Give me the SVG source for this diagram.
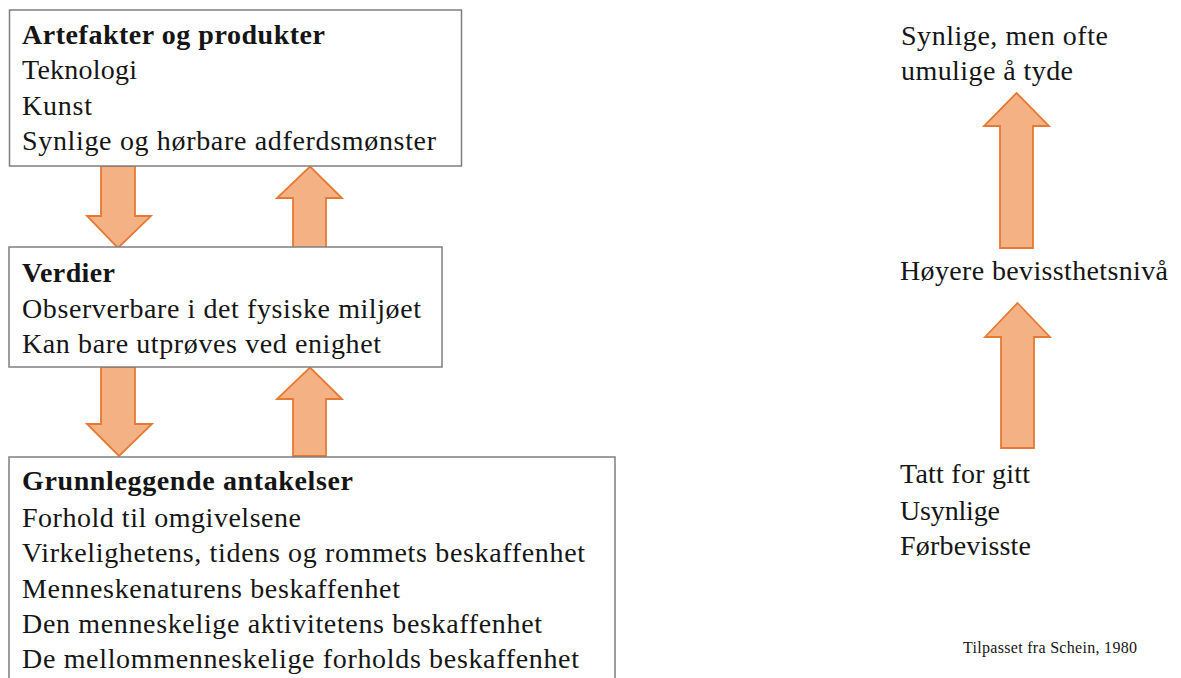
<svg xmlns="http://www.w3.org/2000/svg" width="1181" height="678" viewBox="0 0 1181 678">
<style>
.box{fill:#fff;stroke:#7f7f7f;stroke-width:1.5}
.arr{fill:#F4B183;stroke:#E57A35;stroke-width:1.8;stroke-linejoin:miter}
text{font-family:'Liberation Serif',serif;font-size:28px;fill:#151515}
.b{font-weight:bold}
.small{font-size:16px}
</style>
<rect width="1181" height="678" fill="#fff"/>
<g id="connectors">
<path class="arr" d="M101,166 H135 V216 H151 L118,248 L87,216 H101 Z"/>
<path class="arr" d="M310,166.5 L342,198 H326 V248 H293 V198 H277 Z"/>
<path class="arr" d="M101,367 H135 V424 H152 L119,456 L87,424 H101 Z"/>
<path class="arr" d="M310,367.5 L342,399 H326 V456 H293 V399 H277 Z"/>
<path class="arr" d="M1016.5,93 L1049,126 H1033 V248 H1000 V126 H984 Z"/>
<path class="arr" d="M1017.5,303 L1050,337 H1034 V448 H1001 V337 H985 Z"/>
</g>
<g id="artefakter">
<rect class="box" x="9.5" y="10" width="452" height="156"/>
<text class="b" x="22" y="44" textLength="303">Artefakter og produkter</text>
<text x="22" y="79" textLength="115">Teknologi</text>
<text x="22" y="115" textLength="70">Kunst</text>
<text x="22" y="150" textLength="414">Synlige og hørbare adferdsmønster</text>
</g>
<g id="verdier">
<rect class="box" x="9" y="247" width="433" height="120"/>
<text class="b" x="22" y="282" textLength="93">Verdier</text>
<text x="22" y="318" textLength="399">Observerbare i det fysiske miljøet</text>
<text x="22" y="353" textLength="359">Kan bare utprøves ved enighet</text>
</g>
<g id="grunnleggende">
<rect class="box" x="9" y="457" width="606" height="240"/>
<text class="b" x="22" y="490" textLength="331">Grunnleggende antakelser</text>
<text x="22" y="527" textLength="279">Forhold til omgivelsene</text>
<text x="22" y="562" textLength="563">Virkelighetens, tidens og rommets beskaffenhet</text>
<text x="22" y="598" textLength="378">Menneskenaturens beskaffenhet</text>
<text x="22" y="633" textLength="520">Den menneskelige aktivitetens beskaffenhet</text>
<text x="22" y="668" textLength="557">De mellommenneskelige forholds beskaffenhet</text>
</g>
<g id="synlige">
<text x="901" y="45" textLength="207">Synlige, men ofte</text>
<text x="901" y="80" textLength="172">umulige å tyde</text>
</g>
<g id="hoyere">
<text x="900" y="280" textLength="268">Høyere bevissthetsnivå</text>
</g>
<g id="tatt">
<text x="900" y="483" textLength="130">Tatt for gitt</text>
<text x="900" y="520" textLength="100">Usynlige</text>
<text x="900" y="555" textLength="131">Førbevisste</text>
</g>
<g id="kilde">
<text class="small" x="963" y="653" textLength="174">Tilpasset fra Schein, 1980</text>
</g>
</svg>
